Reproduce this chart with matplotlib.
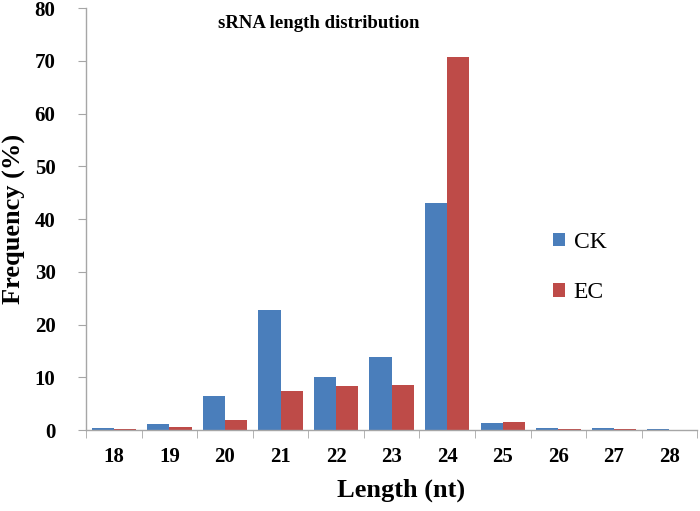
import matplotlib
matplotlib.use("Agg")
import matplotlib.pyplot as plt
import numpy as np
from matplotlib.ticker import FixedLocator

lengths = ["18", "19", "20", "21", "22", "23", "24", "25", "26", "27", "28"]
ck = [0.3, 1.2, 6.4, 22.7, 10.0, 13.8, 43.0, 1.4, 0.4, 0.3, 0.15]
ec = [0.2, 0.6, 1.9, 7.4, 8.4, 8.6, 70.7, 1.6, 0.15, 0.2, 0.0]

plt.rcParams['font.family'] = ['Liberation Serif', 'DejaVu Serif']
plt.rcParams['font.weight'] = 'bold'

fig = plt.figure(figsize=(7, 5.11), dpi=100)
ax = fig.add_axes([0.123, 0.1585, 0.873, 0.8255])

x = np.arange(len(lengths))
w = 0.4
ax.bar(x - w/2, ck, w, color='#4a7ebb', label='CK')
ax.bar(x + w/2, ec, w, color='#be4b48', label='EC')

ax.set_xlim(-0.5, len(lengths) - 0.5)
ax.set_ylim(0, 80)
ax.set_yticks(np.arange(0, 81, 10))
ax.set_xticks(x)
ax.set_xticklabels(lengths)
ax.xaxis.set_minor_locator(FixedLocator(np.arange(-0.5, len(lengths), 1.0)))
ax.tick_params(axis='x', which='major', length=0, pad=12, labelsize=15)
ax.tick_params(axis='x', which='minor', length=6, color='#a6a6a6', direction='out')
ax.tick_params(axis='y', length=6, color='#a6a6a6', direction='out', labelsize=15, pad=16)

for s in ['top', 'right']:
    ax.spines[s].set_visible(False)
for s in ['left', 'bottom']:
    ax.spines[s].set_color('#a6a6a6')
    ax.spines[s].set_linewidth(1.0)

ax.set_xlabel('Length (nt)', fontsize=19, fontweight='bold', labelpad=6)
ax.xaxis.set_label_coords(0.515, -0.115)
ax.set_ylabel('Frequency (%)', fontsize=19, fontweight='bold', labelpad=6)
ax.text(0.38, 0.985, 'sRNA length distribution', transform=ax.transAxes,
        ha='center', va='top', fontsize=13.5, fontweight='bold')

leg = ax.legend(loc='center left', bbox_to_anchor=(0.73, 0.385), frameon=False,
                prop={'size': 17, 'weight': 'normal'}, handlelength=0.5, handleheight=0.5,
                handletextpad=0.35, labelspacing=1.25)

fig.savefig('out.png', dpi=100)
